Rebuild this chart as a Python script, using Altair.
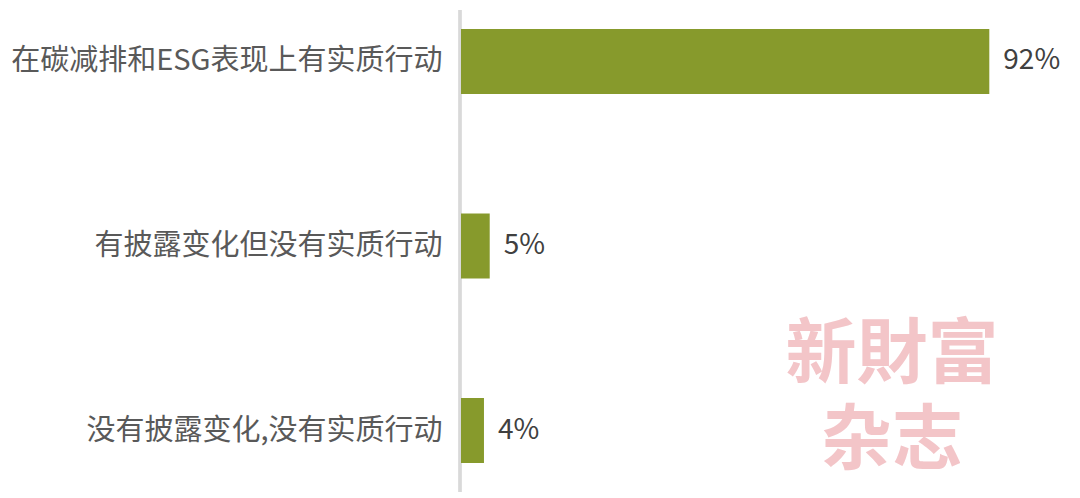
import altair as alt
import pandas as pd

categories = ["在碳减排和ESG表现上有实质行动", "有披露变化但没有实质行动", "没有披露变化,没有实质行动"]
values = [92, 5, 4]
labels = ["92%", "5%", "4%"]

df = pd.DataFrame({"cat": categories, "val": values, "lab": labels})

W, H = 611, 482
FONT = "Noto Sans CJK SC"

yenc = alt.Y(
    "cat:N",
    sort=categories,
    scale=alt.Scale(range=[0, 472], paddingInner=0.648, paddingOuter=0.103),
    axis=alt.Axis(
        title=None, ticks=False, domain=False, labelFontSize=29, labelFont=FONT,
        labelColor="#595959", labelPadding=19, labelLimit=500,
        minExtent=453, maxExtent=453,
    ),
)
xenc = alt.X("val:Q", scale=alt.Scale(domain=[0, 106.4]), axis=None)

base = alt.Chart(df)

rule = base.mark_rule(color="#d9d9d9", strokeWidth=3).encode(
    x=alt.value(-1), y=alt.value(0), y2=alt.value(H)
)

bars = base.mark_bar(color="#879a2c").encode(x=xenc, y=yenc)

text = base.mark_text(
    align="left", baseline="middle", dx=14, fontSize=28, font=FONT, color="#404040"
).encode(x=xenc, y=yenc, text="lab:N")

wm = pd.DataFrame({"t": ["新財富", "杂志"], "yy": [346, 432]})
watermark = alt.Chart(wm).mark_text(
    fontSize=71, font=FONT, fontWeight="bold", color="#f2bfc3", opacity=0.9,
    align="center", baseline="middle"
).encode(text="t:N", x=alt.value(431), y=alt.Y("yy:Q", scale=None))

chart = (
    alt.layer(rule, bars, text, watermark)
    .properties(width=W, height=H, padding=0)
    .configure_view(stroke=None)
)

chart.save("out.html", embed_options={"renderer": "svg", "actions": False})
